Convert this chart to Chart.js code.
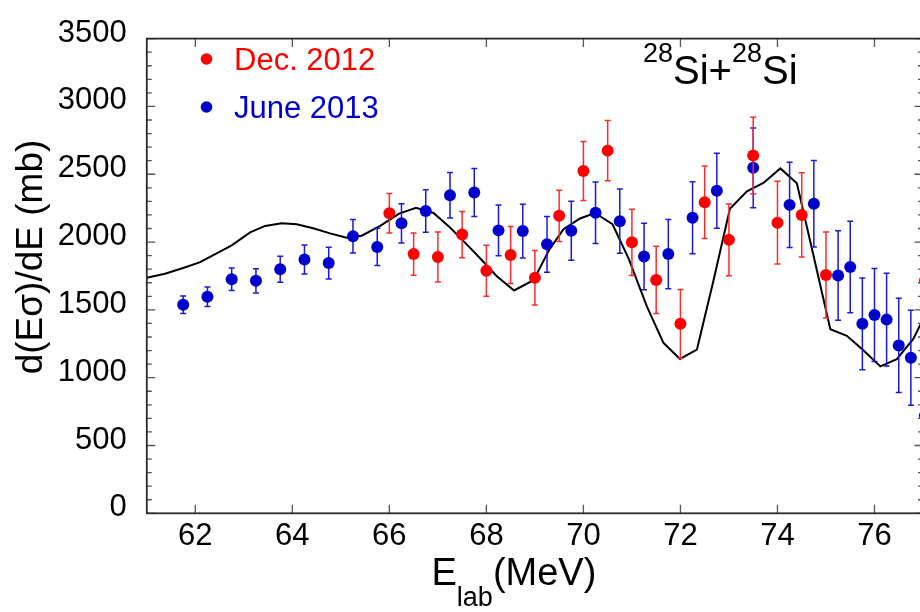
<!DOCTYPE html>
<html>
<head>
<meta charset="utf-8">
<script src="https://cdn.jsdelivr.net/npm/chart.js@4.4.1/dist/chart.umd.min.js"></script>
<style>
  html, body { margin: 0; padding: 0; background: #fff; width: 920px; height: 612px; overflow: hidden; }
  #wrap { position: absolute; left: 0; top: 0; width: 930px; height: 612px; }
</style>
</head>
<body>
<div id="wrap"><canvas id="c" width="930" height="612"></canvas></div>
<script>
// Dec. 2012 run: beam energy (MeV), cross section (mb), uncertainty (mb)
const energyDec2012 = [66.0, 66.5, 67.0, 67.5, 68.0, 68.5, 69.0, 69.5, 70.0, 70.5, 71.0, 71.5, 72.0, 72.5, 73.0, 73.5, 74.0, 74.5, 75.0, 77.04];
const sigmaDec2012  = [2212, 1911, 1890, 2055, 1788, 1905, 1736, 2193, 2524, 2674, 1998, 1721, 1397, 2293, 2016, 2638, 2143, 2200, 1757, 1714];
const errDec2012    = [145, 156, 184, 170, 188, 210, 201, 189, 217, 223, 244, 248, 254, 267, 264, 283, 305, 311, 317, 320];

// June 2013 run
const energyJun2013 = [61.75, 62.25, 62.75, 63.25, 63.75, 64.25, 64.75, 65.25, 65.75, 66.25, 66.75, 67.25, 67.75, 68.25, 68.75, 69.25, 69.75, 70.25, 70.75, 71.25, 71.75, 72.25, 72.75, 73.5, 74.25, 74.75, 75.25, 75.5, 75.75, 76.0, 76.25, 76.5, 76.75, 77.04];
const sigmaJun2013  = [1538, 1597, 1726, 1714, 1800, 1871, 1845, 2043, 1964, 2138, 2229, 2345, 2366, 2086, 2081, 1983, 2083, 2216, 2154, 1893, 1911, 2179, 2378, 2547, 2274, 2283, 1754, 1816, 1397, 1462, 1428, 1238, 1147, 721];
const errJun2013    = [65, 72, 83, 90, 96, 107, 117, 124, 137, 145, 156, 168, 177, 187, 198, 206, 217, 226, 237, 245, 255, 265, 276, 294, 314, 319, 330, 338, 338, 343, 342, 348, 351, 360];

// Model calculation
const energyModel = [61.0, 61.375, 61.75, 62.1, 62.75, 63.13, 63.44, 63.78, 64.09, 64.43, 64.78, 65.12, 65.43, 65.81, 66.2, 66.55, 66.91, 67.25, 67.6, 67.87, 68.21, 68.57, 68.97, 69.31, 69.59, 69.93, 70.24, 70.6, 70.93, 71.31, 71.65, 71.99, 72.34, 72.68, 73.02, 73.37, 73.71, 74.06, 74.4, 74.74, 75.09, 75.43, 75.77, 76.12, 76.46, 76.8, 77.0];
const sigmaModel  = [1736, 1766, 1809, 1852, 1976, 2071, 2119, 2138, 2131, 2102, 2064, 2031, 2047, 2120, 2210, 2252, 2214, 2107, 1981, 1881, 1750, 1643, 1719, 1952, 2095, 2174, 2214, 2131, 1880, 1524, 1257, 1138, 1207, 1714, 2245, 2374, 2436, 2543, 2433, 1904, 1357, 1309, 1202, 1083, 1136, 1286, 1430];

// Axis ticks
const xTickValues = [62, 64, 66, 68, 70, 72, 74, 76];
const yTickValues = [0, 500, 1000, 1500, 2000, 2500, 3000, 3500];

const RED = '#ff0000';
const BLUE = '#0000cc';
const FONT = '"Liberation Sans", Arial, Helvetica, sans-serif';

const toPoints = (xs, ys) => xs.map((x, i) => ({ x: x, y: ys[i] }));

// Vertical error bars drawn under each data set's markers
const errorBars = {
  id: 'errorBars',
  beforeDatasetDraw(chart, args) {
    const ds = chart.data.datasets[args.index];
    if (!ds.errors) return;
    const { ctx, scales: { x, y } } = chart;
    ctx.save();
    ctx.strokeStyle = ds.errorColor;
    ctx.lineWidth = 1.5;
    ds.data.forEach((p, i) => {
      const e = ds.errors[i];
      const px = x.getPixelForValue(p.x);
      const yt = y.getPixelForValue(p.y + e);
      const yb = y.getPixelForValue(p.y - e);
      ctx.beginPath();
      ctx.moveTo(px, yt); ctx.lineTo(px, yb);
      ctx.moveTo(px - 3, yt); ctx.lineTo(px + 3, yt);
      ctx.moveTo(px - 3, yb); ctx.lineTo(px + 3, yb);
      ctx.stroke();
    });
    ctx.restore();
  }
};

// Box frame with inward ticks on all four sides
const frame = {
  id: 'frame',
  afterDatasetsDraw(chart) {
    const { ctx, chartArea: a, scales: { x, y } } = chart;
    ctx.save();
    ctx.strokeStyle = '#555';
    ctx.lineWidth = 1.3;
    ctx.beginPath();
    x.ticks.forEach(t => {
      const px = x.getPixelForValue(t.value);
      ctx.moveTo(px, a.bottom); ctx.lineTo(px, a.bottom - 8.5);
      ctx.moveTo(px, a.top); ctx.lineTo(px, a.top + 8.5);
    });
    for (let v = 0; v <= 3500; v += 100) {
      const py = y.getPixelForValue(v);
      const len = v % 500 === 0 ? 8.5 : 5;
      ctx.moveTo(a.left, py); ctx.lineTo(a.left + len, py);
      ctx.moveTo(a.right, py); ctx.lineTo(a.right - len, py);
    }
    ctx.stroke();
    ctx.strokeStyle = '#2a2a2a';
    ctx.lineWidth = 1.8;
    ctx.strokeRect(a.left, a.top, a.right - a.left, a.bottom - a.top);
    ctx.restore();
  }
};

// Axis titles, reaction label and the legend
const labels = {
  id: 'labels',
  afterDraw(chart) {
    const { ctx } = chart;
    ctx.save();
    ctx.fillStyle = '#000';

    // y title
    ctx.save();
    ctx.translate(32, 257);
    ctx.rotate(-Math.PI / 2);
    ctx.font = '37px ' + FONT;
    ctx.textAlign = 'center';
    ctx.textBaseline = 'middle';
    ctx.fillText('d(Eσ)/dE (mb)', 0, 0);
    ctx.restore();

    ctx.textBaseline = 'alphabetic';
    ctx.textAlign = 'left';

    // x title with subscript
    const big = '38px ' + FONT, sub = '27px ' + FONT;
    let xx = 431.5;
    ctx.font = big; ctx.fillText('E', xx, 585); xx += ctx.measureText('E').width;
    ctx.font = sub; ctx.fillText('lab', xx, 606); xx += ctx.measureText('lab').width;
    ctx.font = big; ctx.fillText('(MeV)', xx, 585);

    // reaction label 28Si+28Si
    const supF = '27px ' + FONT, mainF = '40px ' + FONT;
    let tx = 643;
    const parts = [['28', supF, 62], ['Si+', mainF, 84], ['28', supF, 62], ['Si', mainF, 84]];
    parts.forEach(([t, f, b]) => { ctx.font = f; ctx.fillText(t, tx, b); tx += ctx.measureText(t).width; });

    // legend
    chart.data.datasets.filter(d => d.legendY).forEach(d => {
      ctx.fillStyle = d.backgroundColor;
      ctx.beginPath(); ctx.arc(206.5, d.legendY - 11, 5.8, 0, Math.PI * 2); ctx.fill();
      ctx.font = '31px ' + FONT;
      ctx.fillText(d.label, 234, d.legendY);
    });
    ctx.restore();
  }
};

new Chart(document.getElementById('c'), {
  type: 'scatter',
  data: {
    datasets: [
      {
        label: 'Dec. 2012',
        data: toPoints(energyDec2012, sigmaDec2012),
        errors: errDec2012,
        errorColor: '#ff2a2a',
        backgroundColor: RED,
        borderColor: RED,
        borderWidth: 0,
        pointRadius: 6,
        pointHoverRadius: 6,
        legendY: 70,
        clip: false,
        order: 1
      },
      {
        label: 'June 2013',
        data: toPoints(energyJun2013, sigmaJun2013),
        errors: errJun2013,
        errorColor: '#1a1ad8',
        backgroundColor: BLUE,
        borderColor: BLUE,
        borderWidth: 0,
        pointRadius: 6,
        pointHoverRadius: 6,
        legendY: 118,
        clip: false,
        order: 2
      },
      {
        label: 'model',
        type: 'line',
        data: toPoints(energyModel, sigmaModel),
        borderColor: '#000',
        borderWidth: 2,
        pointRadius: 0,
        tension: 0,
        fill: false,
        order: 3
      }
    ]
  },
  options: {
    responsive: false,
    animation: false,
    events: [],
    layout: { padding: { left: 0, top: 23.7, right: 7, bottom: 0 } },
    plugins: { legend: { display: false }, tooltip: { enabled: false } },
    scales: {
      x: {
        type: 'linear',
        min: 61, max: 77,
        grid: { display: false, drawTicks: false },
        border: { display: false },
        ticks: {
          padding: 5, maxRotation: 0, autoSkip: false,
          font: { family: FONT, size: 31 }, color: '#000',
          callback: v => String(v)
        },
        afterBuildTicks: s => { s.ticks = xTickValues.map(v => ({ value: v })); },
        afterFit: s => { s.height = 612 - 513.3; }
      },
      y: {
        type: 'linear',
        min: 0, max: 3500,
        grid: { display: false, drawTicks: false },
        border: { display: false },
        ticks: {
          padding: 20, labelOffset: -5.5, autoSkip: false,
          font: { family: FONT, size: 31 }, color: '#000',
          callback: v => String(v)
        },
        afterBuildTicks: s => { s.ticks = yTickValues.map(v => ({ value: v })); },
        afterFit: s => { s.width = 146.8; }
      }
    }
  },
  plugins: [errorBars, frame, labels]
});
</script>
</body>
</html>
